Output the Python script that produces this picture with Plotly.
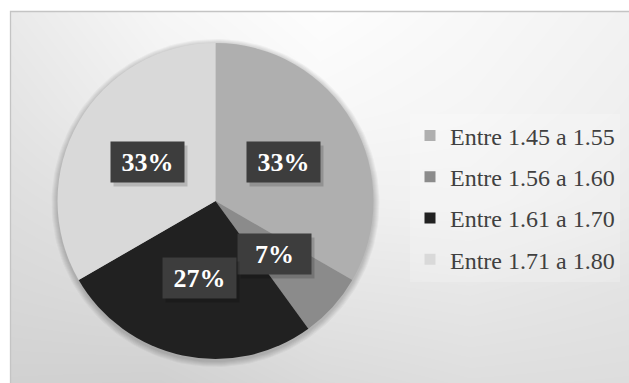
import numpy as np
import plotly.graph_objects as go

# Height ranges (m) and number of people in each
categories = ["Entre 1.45 a 1.55", "Entre 1.56 a 1.60", "Entre 1.61 a 1.70", "Entre 1.71 a 1.80"]
values = [5, 1, 4, 5]
colors = ["#afafaf", "#8b8b8b", "#212121", "#d9d9d9"]

# Background shading (gray levels) on a coarse grid, smoothed by the heatmap
bg_x = [11, 160, 320, 470, 629]
bg_y = [12, 110, 200, 290, 383]
bg_levels = [
    [234, 246, 253, 248, 242],
    [228, 240, 248, 245, 239],
    [222, 229, 240, 241, 235],
    [216, 220, 229, 231, 227],
    [209, 208, 218, 222, 221],
]

SERIF = "'Liberation Serif', 'Times New Roman', Times, 'DejaVu Serif', serif"

W, H = 629, 383
frame_left, frame_top = 11, 12
cx, cy, r = 215.5, 201.0, 158.0

fig = go.Figure()

fig.add_trace(go.Heatmap(
    x=bg_x, y=bg_y, z=bg_levels, zsmooth="best",
    colorscale=[[0, "rgb(0,0,0)"], [1, "rgb(255,255,255)"]],
    zmin=0, zmax=255, showscale=False, hoverinfo="skip",
))

# soft shadow under the pie
th = np.linspace(0, 2 * np.pi, 181)
for k in range(1, 7):
    rr = r + k
    fig.add_trace(go.Scatter(
        x=cx + rr * np.cos(th), y=cy + 2 + rr * np.sin(th),
        fill="toself", fillcolor="rgba(0,0,0,0.035)", mode="lines",
        line=dict(width=0), showlegend=False, hoverinfo="skip",
    ))

fig.add_trace(go.Pie(
    labels=categories, values=values, sort=False, direction="clockwise",
    rotation=0, marker=dict(colors=colors, line=dict(width=0)),
    textinfo="none", showlegend=False,
    domain=dict(x=[(cx - r) / W, (cx + r) / W], y=[(H - cy - r) / H, (H - cy + r) / H]),
))

# legend entries
for name, col in zip(categories, colors):
    fig.add_trace(go.Scatter(
        x=[None], y=[None], mode="markers", name=name, legendgroup=name,
        marker=dict(symbol="square", size=11, color=col),
    ))

# percentage labels at half radius along each slice's mid-angle
total = sum(values)
cum = 0
annotations = []
for v in values:
    mid = (cum + v / 2) / total * 2 * np.pi
    cum += v
    px = cx + 0.5 * r * np.sin(mid)
    py = cy - 0.5 * r * np.cos(mid)
    label = f"{round(100 * v / total)}%"
    common = dict(x=px / W, y=1 - py / H, xref="paper", yref="paper",
                  xanchor="center", yanchor="middle",
                  showarrow=False, width=71, height=38)
    annotations.append(dict(text=" ", bgcolor="rgba(0,0,0,0.16)",
                            xshift=3, yshift=-4, **common))
    annotations.append(dict(
        text=f"<b>{label}</b>", bgcolor="#3d3d3d",
        font=dict(family=SERIF, size=26, color="white"), **common))

fig.update_layout(
    width=W, height=H, margin=dict(l=0, r=0, t=0, b=0),
    paper_bgcolor="white", plot_bgcolor="rgba(0,0,0,0)",
    font=dict(family=SERIF),
    xaxis=dict(domain=[frame_left / W, 1], range=[frame_left, W], visible=False, fixedrange=True),
    yaxis=dict(domain=[0, 1 - frame_top / H], range=[H, frame_top], visible=False, fixedrange=True),
    legend=dict(
        x=410 / W, xanchor="left", y=1 - 197.5 / H, yanchor="middle",
        font=dict(family=SERIF, size=24, color="#404040"),
        tracegroupgap=7, bgcolor="rgba(255,255,255,0.2)",
        itemclick=False, itemdoubleclick=False,
    ),
    annotations=annotations,
    shapes=[dict(type="rect", xref="paper", yref="paper",
                 x0=(frame_left - 0.5) / W, x1=1.02, y0=-0.02, y1=1 - (frame_top - 0.5) / H,
                 line=dict(color="#c4c4c4", width=1.3))],
)

fig.write_html("out.html")
